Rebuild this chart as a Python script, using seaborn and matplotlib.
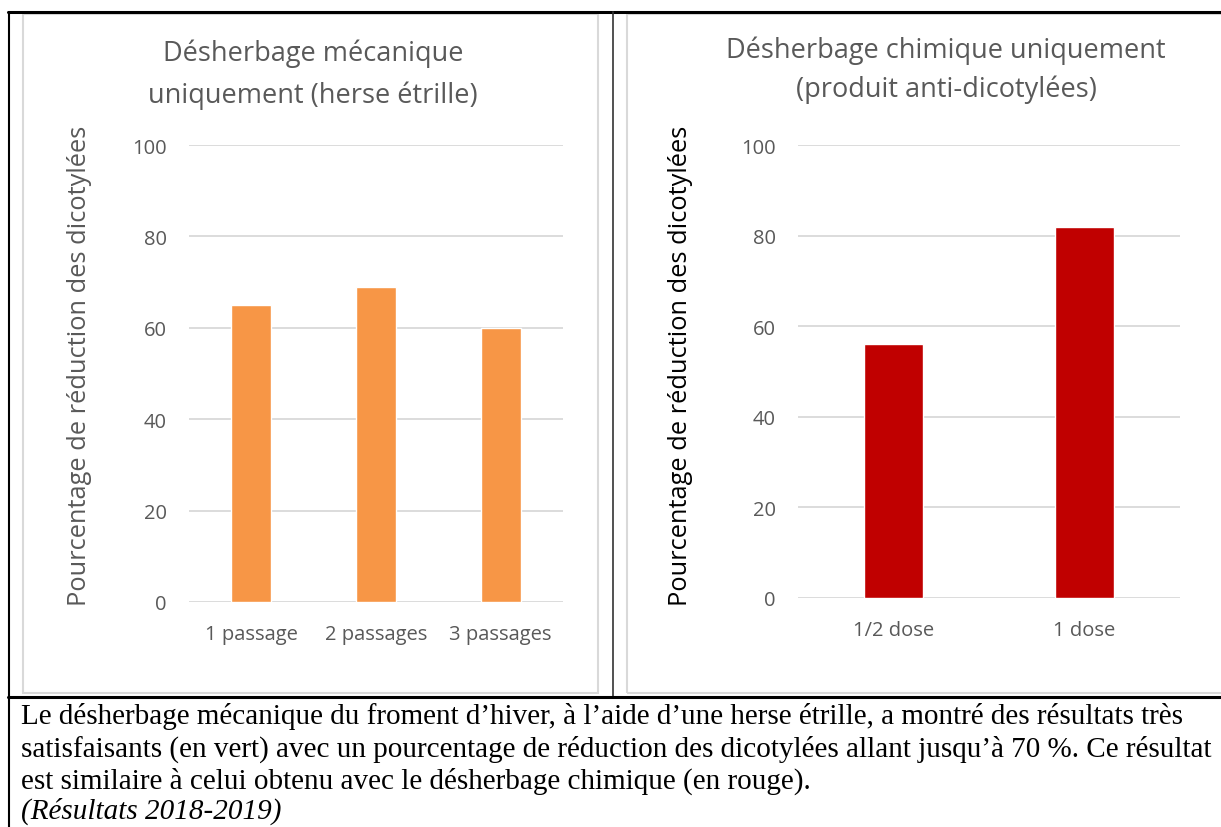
import matplotlib
matplotlib.use("Agg")
import matplotlib.pyplot as plt
import seaborn as sns
import pandas as pd
from matplotlib.patches import Rectangle
from matplotlib.lines import Line2D

# --- data ---
meca_labels = ['1 passage', '2 passages', '3 passages']
meca_values = [65, 69, 60]
chim_labels = ['1/2 dose', '1 dose']
chim_values = [56, 82]
y_ticks = [0, 20, 40, 60, 80, 100]

title_meca = ['Désherbage mécanique', 'uniquement (herse étrille)']
title_chim = ['Désherbage chimique uniquement', '(produit anti-dicotylées)']
y_label = 'Pourcentage de réduction des dicotylées'
caption = [
    "Le désherbage mécanique du froment d’hiver, à l’aide d’une herse étrille, a montré des résultats très",
    "satisfaisants (en vert) avec un pourcentage de réduction des dicotylées allant jusqu’à 70 %. Ce résultat",
    "est similaire à celui obtenu avec le désherbage chimique (en rouge).",
]
caption_note = "(Résultats 2018-2019)"

sns.set_theme(style="white")
plt.rcParams['font.family'] = ['Open Sans', 'DejaVu Sans']

W, H = 1221, 828
fig = plt.figure(figsize=(W / 100, H / 100), dpi=100)


def fx(px):
    return px / W


def fy(py):
    return 1 - py / H


# table borders and chart frames (pixel coords)
fig.add_artist(Line2D([fx(8), fx(1221)], [fy(13), fy(13)], color='black', lw=2.2))
fig.add_artist(Line2D([fx(9), fx(9)], [fy(13), fy(828)], color='black', lw=1.5))
fig.add_artist(Line2D([fx(613), fx(613)], [fy(13), fy(698)], color='#333333', lw=1.2))
fig.add_artist(Line2D([fx(8), fx(1221)], [fy(698), fy(698)], color='black', lw=2.2))
fig.add_artist(Rectangle((fx(23), fy(694)), fx(598 - 23), (694 - 15) / H,
                         fill=False, edgecolor='#d9d9d9', lw=1.5))
fig.add_artist(Rectangle((fx(627), fy(694)), fx(1240 - 627), (694 - 15) / H,
                         fill=False, edgecolor='#d9d9d9', lw=1.5))


def draw_panel(rect, labels, values, color, width, title, title_x, title_y,
               ylab_color, ylab_x):
    ax = fig.add_axes(rect)
    df = pd.DataFrame({'cat': labels, 'val': values})
    sns.barplot(data=df, x='cat', y='val', color=color, width=width,
                saturation=1, ax=ax)
    ax.set_ylim(0, 100)
    ax.set_yticks(y_ticks)
    ax.yaxis.grid(True, color='#d9d9d9', lw=1.3)
    ax.set_axisbelow(True)
    for s in ax.spines.values():
        s.set_visible(False)
    ax.tick_params(axis='both', length=0, labelsize=14.5, colors='#595959')
    ax.tick_params(axis='y', pad=16)
    ax.tick_params(axis='x', pad=16)
    ax.set_xlabel('')
    ax.set_ylabel('')
    fig.text(fx(ylab_x), fy(366), y_label, rotation=90, ha='center', va='center',
             fontsize=18.3, color=ylab_color)
    for line, ty in zip(title, title_y):
        fig.text(fx(title_x), fy(ty), line, ha='center', va='baseline',
                 fontsize=19.5, color='#595959')
    return ax


draw_panel([fx(189), fy(603), fx(563 - 189), (603 - 146) / H],
           meca_labels, meca_values, '#F79646', 0.32, title_meca, 313, [61, 103],
           '#595959', 80)
draw_panel([fx(798), fy(599), fx(1180 - 798), (599 - 146) / H],
           chim_labels, chim_values, '#C00000', 0.31, title_chim, 946, [58, 97],
           'black', 680)

# caption under the charts
for i, line in enumerate(caption):
    fig.text(fx(21), fy(717 + 32 * i), line, ha='left', va='center',
             fontsize=21, family='Liberation Serif', color='black')
fig.text(fx(21), fy(811), caption_note, ha='left', va='center',
         fontsize=21, family='Liberation Serif', style='italic', color='black')

fig.savefig('out.png', dpi=100)
